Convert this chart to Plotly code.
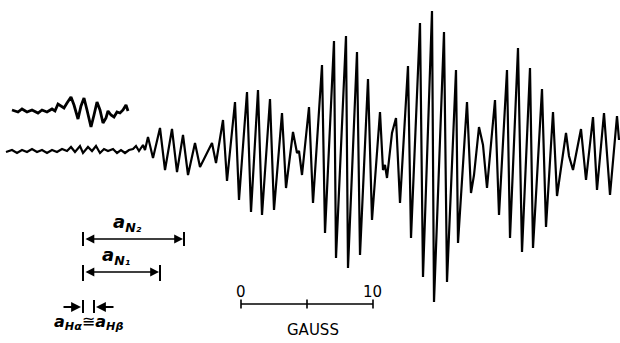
import plotly.graph_objects as go

# Main EPR trace (field position, signal) in chart units
main_field = [6, 12, 17, 22, 27, 32, 37, 42, 47, 52, 57, 62, 67, 71, 75, 80, 83, 88, 92, 96,
              100, 104, 108, 113, 117, 121, 125, 129, 133, 136, 139, 143, 145, 148, 153, 160,
              165, 172, 177, 183, 188, 195, 200, 207, 212, 216, 223, 227, 235, 239, 247, 251,
              258, 262, 270, 274, 282, 286, 293, 297, 299, 302, 309, 313, 322, 325, 334, 336,
              346, 348, 357, 360, 368, 372, 380, 383, 385, 387, 392, 396, 400, 408, 411, 420,
              423, 432, 434, 444, 447, 456, 458, 467, 471, 474, 479, 483, 487, 495, 499, 507,
              510, 518, 522, 530, 533, 542, 546, 553, 557, 566, 569, 573, 581, 586, 593, 597,
              604, 610, 617, 619]
main_signal = [152, 150, 153, 150, 152, 149, 152, 150, 153, 150, 152, 149, 151, 147, 152, 146,
               153, 147, 151, 146, 153, 149, 151, 149, 153, 150, 153, 150, 149, 146, 151, 145,
               150, 137, 158, 128, 170, 129, 172, 135, 175, 143, 167, 153, 143, 163, 120, 181,
               102, 200, 92, 212, 90, 215, 99, 210, 113, 188, 132, 153, 151, 175, 107, 203,
               65, 233, 41, 258, 36, 268, 52, 255, 79, 220, 112, 170, 165, 178, 133, 118,
               203, 66, 238, 23, 277, 11, 302, 32, 282, 70, 243, 102, 193, 175, 127, 145,
               188, 100, 215, 70, 238, 48, 252, 68, 248, 89, 227, 112, 196, 133, 156, 170,
               129, 180, 117, 190, 113, 195, 116, 140]

# Offset (inset) short recording
inset_field = [12, 18, 22, 27, 32, 38, 42, 47, 52, 55, 58, 61, 64, 67, 71, 74, 78, 81, 84, 87,
               91, 94, 97, 100, 103, 106, 108, 111, 114, 117, 120, 123, 126, 128]
inset_signal = [110, 112, 109, 112, 110, 113, 110, 112, 109, 111, 104, 106, 108, 103, 97, 105,
                119, 106, 98, 110, 127, 115, 102, 110, 123, 118, 111, 115, 117, 112, 113, 110,
                105, 111]

scale_labels = ["0", "10"]
scale_unit = "GAUSS"

fig = go.Figure()
fig.add_trace(go.Scatter(x=main_field, y=main_signal, mode="lines",
                         line=dict(color="black", width=2.2), hoverinfo="skip"))
fig.add_trace(go.Scatter(x=inset_field, y=inset_signal, mode="lines",
                         line=dict(color="black", width=2.8), hoverinfo="skip"))

shapes = []
def seg(x0, y0, x1, y1, w=1.6):
    shapes.append(dict(type="line", x0=x0, y0=y0, x1=x1, y1=y1, xref="x", yref="y",
                       line=dict(color="black", width=w)))

# scale bar
seg(241, 304, 373, 304)
for xt in (241, 307, 373):
    seg(xt, 299.5, xt, 308.5)
# a_N2 bracket
seg(83, 232, 83, 246, 2)
seg(184, 232, 184, 246, 2)
# a_N1 bracket
seg(83, 265, 83, 281, 2)
seg(160, 265, 160, 281, 2)
# a_H ticks
seg(83, 300, 83, 313, 2)
seg(94, 300, 94, 313, 2)

anns = []
def dbl_arrow(x0, x1, y):
    anns.append(dict(x=x1, y=y, ax=x0, ay=y, xref="x", yref="y",
                     axref="x", ayref="y", text="", showarrow=True, arrowside="end+start",
                     arrowhead=2, startarrowhead=2, arrowsize=1.1, startarrowsize=1.1,
                     arrowwidth=1.6, arrowcolor="black"))

dbl_arrow(84, 183, 239)
dbl_arrow(84, 159, 272)
anns.append(dict(x=81, y=307, ax=62, ay=307, xref="x", yref="y", axref="x", ayref="y",
                 text="", showarrow=True, arrowhead=2, arrowsize=1.1, arrowwidth=1.8,
                 arrowcolor="black"))
anns.append(dict(x=96, y=307, ax=115, ay=307, xref="x", yref="y", axref="x", ayref="y",
                 text="", showarrow=True, arrowhead=2, arrowsize=1.1, arrowwidth=1.8,
                 arrowcolor="black"))

lab_font = dict(family="DejaVu Sans", size=18, color="black")
anns.append(dict(x=127, y=223, xref="x", yref="y", showarrow=False,
                 text="<b><i>a</i></b><sub><b><i>N₂</i></b></sub>", font=lab_font))
anns.append(dict(x=116, y=256, xref="x", yref="y", showarrow=False,
                 text="<b><i>a</i></b><sub><b><i>N₁</i></b></sub>", font=lab_font))
anns.append(dict(x=88, y=322, xref="x", yref="y", showarrow=False,
                 text="<b><i>a</i></b><sub><b><i>Hα</i></b></sub>≅<b><i>a</i></b><sub><b><i>Hβ</i></b></sub>",
                 font=dict(family="DejaVu Sans", size=16, color="black")))

num_font = dict(family="DejaVu Sans", size=15, color="black")
anns.append(dict(x=241, y=292, xref="x", yref="y", showarrow=False, text=scale_labels[0], font=num_font))
anns.append(dict(x=372, y=292, xref="x", yref="y", showarrow=False, text=scale_labels[1], font=num_font))
anns.append(dict(x=313, y=330, xref="x", yref="y", showarrow=False, text=scale_unit, font=num_font))

fig.update_layout(
    width=620, height=343, margin=dict(l=0, r=0, t=0, b=0),
    paper_bgcolor="white", plot_bgcolor="white", showlegend=False,
    xaxis=dict(range=[0, 620], visible=False, fixedrange=True),
    yaxis=dict(range=[343, 0], visible=False, fixedrange=True),
    shapes=shapes, annotations=anns,
)
fig.write_html("out.html", config={"displayModeBar": False},
               post_script="document.body.style.margin='0';document.body.style.overflow='hidden';")
